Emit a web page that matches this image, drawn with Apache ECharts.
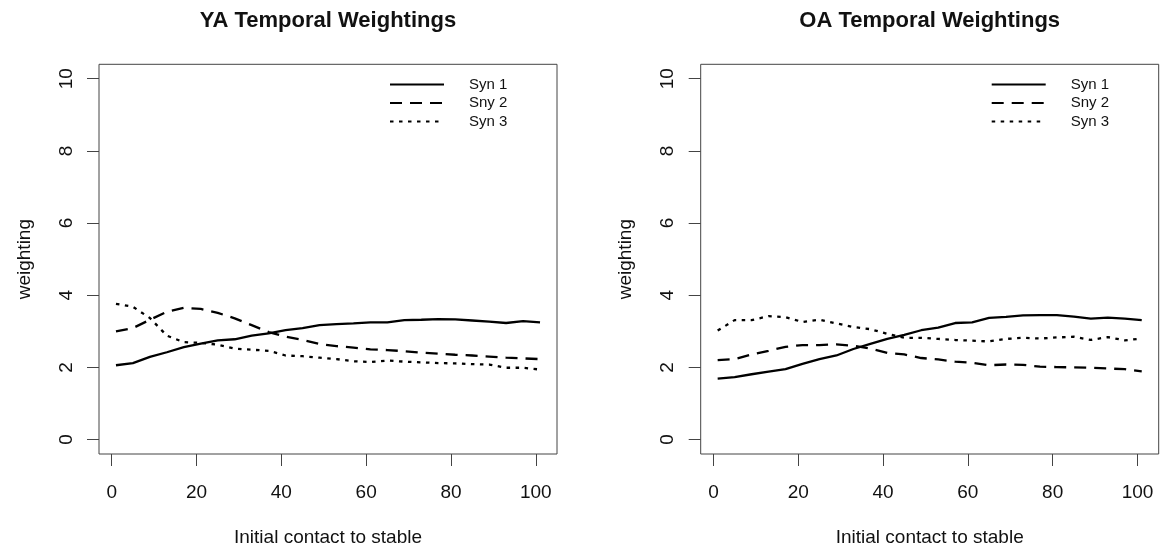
<!DOCTYPE html>
<html>
<head>
<meta charset="utf-8">
<script src="https://cdn.jsdelivr.net/npm/echarts@6/dist/echarts.min.js"></script>
<style>
  html, body { margin: 0; padding: 0; background: #fff; }
  #chart { width: 1161px; height: 552px; }
</style>
</head>
<body>
<div id="chart"></div>
<script>
// Sample positions along the time-normalised axis (1 = initial contact, 101 = stable)
const xPos = [1, 5, 9, 13, 17, 21, 25, 29, 33, 37, 41, 45, 49, 53, 57, 61, 65, 69, 73, 77, 81, 85, 89, 93, 97, 101];

// Young adults
const yaSyn1 = [2.06, 2.12, 2.29, 2.42, 2.56, 2.66, 2.75, 2.78, 2.88, 2.94, 3.03, 3.09, 3.17, 3.20, 3.22, 3.25, 3.25, 3.31, 3.32, 3.34, 3.33, 3.30, 3.27, 3.23, 3.28, 3.25];
const yaSny2 = [3.00, 3.09, 3.32, 3.54, 3.65, 3.62, 3.51, 3.36, 3.17, 2.98, 2.85, 2.76, 2.65, 2.59, 2.55, 2.50, 2.48, 2.45, 2.41, 2.38, 2.35, 2.33, 2.30, 2.27, 2.25, 2.23];
const yaSyn3 = [3.76, 3.68, 3.37, 2.88, 2.70, 2.68, 2.63, 2.52, 2.49, 2.46, 2.33, 2.31, 2.27, 2.23, 2.17, 2.15, 2.19, 2.16, 2.14, 2.12, 2.11, 2.09, 2.08, 1.99, 1.99, 1.94];

// Older adults
const oaSyn1 = [1.69, 1.73, 1.81, 1.88, 1.95, 2.10, 2.23, 2.33, 2.51, 2.65, 2.79, 2.90, 3.03, 3.10, 3.23, 3.25, 3.37, 3.40, 3.44, 3.45, 3.45, 3.41, 3.35, 3.38, 3.35, 3.31];
const oaSny2 = [2.20, 2.23, 2.36, 2.46, 2.57, 2.62, 2.62, 2.64, 2.60, 2.52, 2.40, 2.36, 2.26, 2.22, 2.16, 2.13, 2.06, 2.08, 2.07, 2.02, 2.01, 2.00, 1.99, 1.97, 1.95, 1.89];
const oaSyn3 = [3.02, 3.31, 3.31, 3.42, 3.39, 3.26, 3.32, 3.22, 3.12, 3.06, 2.93, 2.82, 2.82, 2.79, 2.76, 2.74, 2.72, 2.79, 2.82, 2.80, 2.83, 2.85, 2.76, 2.84, 2.75, 2.80];

const seriesNames = ['Syn 1', 'Sny 2', 'Syn 3'];
const panelTitles = ['YA Temporal Weightings', 'OA Temporal Weightings'];
const xTicks = [0, 20, 40, 60, 80, 100];
const yTicks = [0, 2, 4, 6, 8, 10];
const xTitle = 'Initial contact to stable';
const yTitle = 'weighting';

const panels = [
  [yaSyn1, yaSny2, yaSyn3],
  [oaSyn1, oaSny2, oaSyn3]
];

const FONT = '"Liberation Sans", Arial, Helvetica, sans-serif';
const INK = '#111';
const FRAME = '#444';
const dashStyles = ['solid', [12, 8], [3.5, 5.5]];

// Plot frames (data range padded by 4% on each side)
const gridLeft = [99, 700.7];
const gridTop = 64.3;
const gridW = 458;
const gridH = 390;

const grids = gridLeft.map(l => ({
  left: l, top: gridTop, width: gridW, height: gridH,
  show: true, borderColor: FRAME, borderWidth: 1, backgroundColor: 'transparent'
}));

const xAxes = gridLeft.map((_, i) => ({
  type: 'value', gridIndex: i, min: -3, max: 105,
  splitLine: { show: false },
  axisLine: { show: false, onZero: false },
  axisTick: { show: true, length: 12, inside: false, customValues: xTicks, lineStyle: { color: FRAME, width: 1 } },
  axisLabel: { customValues: xTicks, margin: 29, fontSize: 19, color: INK, fontFamily: FONT },
  name: xTitle, nameLocation: 'middle', nameGap: 74,
  nameTextStyle: { fontSize: 19, color: INK, fontFamily: FONT }
}));

const yAxes = gridLeft.map((_, i) => ({
  type: 'value', gridIndex: i, min: -0.4, max: 10.4,
  splitLine: { show: false },
  axisLine: { show: false, onZero: false },
  axisTick: { show: true, length: 12, inside: false, customValues: yTicks, lineStyle: { color: FRAME, width: 1 } },
  axisLabel: { customValues: yTicks, rotate: 90, margin: 23, fontSize: 19, color: INK, fontFamily: FONT },
  name: yTitle, nameLocation: 'middle', nameGap: 65,
  nameTextStyle: { fontSize: 19, color: INK, fontFamily: FONT }
}));

const series = [];
panels.forEach((sets, p) => {
  sets.forEach((vals, k) => {
    series.push({
      name: seriesNames[k], type: 'line', xAxisIndex: p, yAxisIndex: p,
      data: xPos.map((x, i) => [x, vals[i]]),
      showSymbol: false, symbol: 'none', smooth: false, silent: true,
      lineStyle: { color: '#000', width: 2.3, type: dashStyles[k] },
      itemStyle: { color: '#000' }
    });
  });
});

const titles = gridLeft.map((l, i) => ({
  text: panelTitles[i], left: l + gridW / 2, top: 10, textAlign: 'center', padding: 0,
  textStyle: { fontSize: 22, fontWeight: 'bold', color: INK, fontFamily: FONT }
}));

// Legend keys: line sample only, no point marker
const legends = gridLeft.map(l => ({
  data: seriesNames, orient: 'vertical', left: l + 290, top: 77,
  itemWidth: 54, itemHeight: 10, itemGap: 3.5, padding: 0,
  selectedMode: false,
  itemStyle: { opacity: 0, color: 'rgba(0,0,0,0)', borderWidth: 0 },
  textStyle: { fontSize: 15, color: INK, fontFamily: FONT, padding: [0, 0, 0, 20] }
}));

const chart = echarts.init(document.getElementById('chart'), null, { renderer: 'canvas' });
chart.setOption({
  animation: false,
  backgroundColor: '#fff',
  title: titles,
  legend: legends,
  grid: grids,
  xAxis: xAxes,
  yAxis: yAxes,
  series: series
});
</script>
</body>
</html>
